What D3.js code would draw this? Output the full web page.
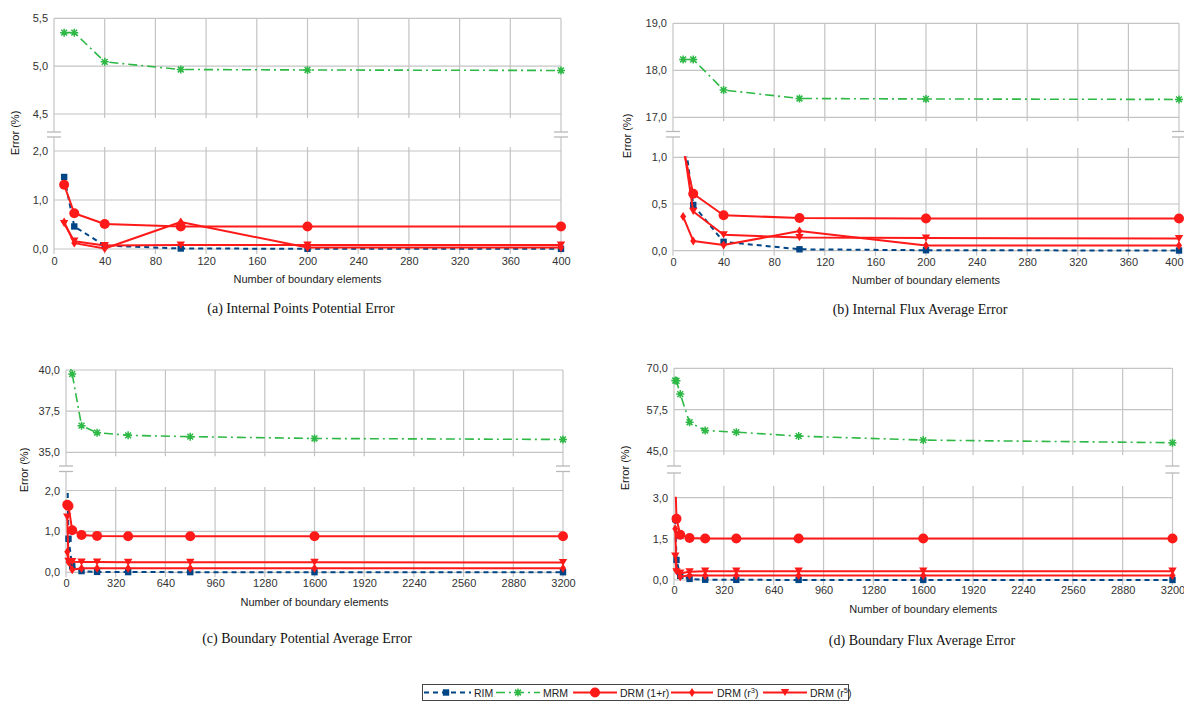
<!DOCTYPE html>
<html><head><meta charset="utf-8">
<script src="https://cdn.jsdelivr.net/npm/d3@7"></script>
<style>body{margin:0;background:#fff}svg{display:block}</style>
</head><body>
<svg id="c" width="1184" height="702"></svg>
<script>
// ---------- DATA ----------
const xSmall = [8, 16, 40, 100, 200, 400];
const xLarge = [8, 16, 40, 100, 200, 400, 800, 1600, 3200];
const xTicksSmall = [0, 40, 80, 120, 160, 200, 240, 280, 320, 360, 400];
const xTicksLarge = [0, 320, 640, 960, 1280, 1600, 1920, 2240, 2560, 2880, 3200];

const seriesNames = ["RIM", "MRM", "DRM (1+r)", "DRM (r3)", "DRM (r5)"];

// (a) Internal Points Potential Error
const aUpperTicks = [4.5, 5.0, 5.5];
const aLowerTicks = [0, 1.0, 2.0];
const aRIM  = [1.47, 0.46, 0.07, 0.01, 0.005, 0.003];
const aMRM  = [5.35, 5.35, 5.045, 4.965, 4.96, 4.955];
const aDRM1 = [1.31, 0.73, 0.51, 0.46, 0.46, 0.46];
const aDRM3 = [0.55, 0.12, 0.01, 0.55, 0.03, 0.03];
const aDRM5 = [0.52, 0.16, 0.07, 0.08, 0.08, 0.08];

// (b) Internal Flux Average Error
const bUpperTicks = [17.0, 18.0, 19.0];
const bLowerTicks = [0, 0.5, 1.0];
const bRIM  = [1.35, 0.49, 0.095, 0.015, 0.005, 0.002];
const bMRM  = [18.23, 18.23, 17.58, 17.40, 17.39, 17.38];
const bDRM1 = [1.1, 0.61, 0.38, 0.35, 0.345, 0.345];
const bDRM3 = [0.365, 0.105, 0.06, 0.21, 0.055, 0.055];
const bDRM5 = [1.15, 0.42, 0.17, 0.14, 0.135, 0.13];

// (c) Boundary Potential Average Error
const cUpperTicks = [35.0, 37.5, 40.0];
const cLowerTicks = [0, 1.0, 2.0];
const cRIM  = [2.6, 0.82, 0.15, 0.03, 0.01, 0.005, 0.004, 0.003, 0.002];
const cMRM  = [42.0, 40.5, 39.76, 36.62, 36.19, 36.03, 35.95, 35.84, 35.78];
const cDRM1 = [1.65, 1.62, 1.03, 0.91, 0.89, 0.88, 0.88, 0.88, 0.88];
const cDRM3 = [0.5, 0.25, 0.06, 0.1, 0.1, 0.1, 0.1, 0.1, 0.1];
const cDRM5 = [1.35, 0.27, 0.26, 0.25, 0.25, 0.245, 0.245, 0.245, 0.24];

// (d) Boundary Flux Average Error
const dUpperTicks = [45.0, 57.5, 70.0];
const dLowerTicks = [0, 1.5, 3.0];
const dRIM  = [2.22, 0.73, 0.15, 0.04, 0.01, 0.005, 0.004, 0.003, 0.002];
const dMRM  = [66.3, 66.2, 62.2, 53.7, 51.2, 50.7, 49.5, 48.3, 47.5];
const dDRM1 = [3.8, 2.23, 1.65, 1.53, 1.51, 1.51, 1.51, 1.51, 1.51];
const dDRM3 = [1.87, 0.35, 0.12, 0.17, 0.16, 0.16, 0.16, 0.16, 0.16];
const dDRM5 = [0.87, 0.3, 0.25, 0.3, 0.32, 0.32, 0.32, 0.32, 0.32];

// ---------- STYLE ----------
const GRID = "#c4c4c4", TXT = "#333", RED = "#ff1a1a";
const styles = [
  {key:"RIM",  color:"#004586", dash:"5,4",      width:2,   marker:"square",  part:"lower"},
  {key:"MRM",  color:"#2eb845", dash:"9,4,2,4",  width:1.6, marker:"star",    part:"upper"},
  {key:"DRM1", color:RED,       dash:null,       width:2,   marker:"circle",  part:"lower"},
  {key:"DRM3", color:RED,       dash:null,       width:2,   marker:"diamond", part:"lower"},
  {key:"DRM5", color:RED,       dash:null,       width:2,   marker:"tri",     part:"lower"}
];

const panels = [
  {id:"a", xs:xSmall, xMax:400, xTicks:xTicksSmall, x0:54, x1:561,
   uDom:[4.5,5.5], uTicks:aUpperTicks, uTop:18.3, uBot:114,
   lDom:[0,2], lTicks:aLowerTicks, lTop:151, lBot:249, lGridTop:147,
   brk:[132,137], xLabY:266, titleY:283, yLab:[15,133], cap:[301,312.5],
   capText:"(a) Internal Points Potential Error",
   data:{RIM:aRIM, MRM:aMRM, DRM1:aDRM1, DRM3:aDRM3, DRM5:aDRM5}},
  {id:"b", xs:xSmall, xMax:400, xTicks:xTicksSmall, x0:673, x1:1179,
   uDom:[17,19], uTicks:bUpperTicks, uTop:23.3, uBot:117.3,
   lDom:[0,1], lTicks:bLowerTicks, lTop:157.3, lBot:250.7, lGridTop:148,
   brk:[131.5,137], xLabY:267.5, titleY:284, yLab:[627,136], cap:[920,314],
   capText:"(b) Internal Flux Average Error", lastLabelEnd:1183,
   data:{RIM:bRIM, MRM:bMRM, DRM1:bDRM1, DRM3:bDRM3, DRM5:bDRM5}},
  {id:"c", xs:xLarge, xMax:3200, xTicks:xTicksLarge, x0:66, x1:563,
   uDom:[35,40], uTicks:cUpperTicks, uTop:370, uBot:452.3,
   lDom:[0,2], lTicks:cLowerTicks, lTop:490.5, lBot:572.3, lGridTop:487,
   brk:[466,471.5], xLabY:588, titleY:605.5, yLab:[24,470], cap:[307,642.5],
   capText:"(c) Boundary Potential Average Error",
   data:{RIM:cRIM, MRM:cMRM, DRM1:cDRM1, DRM3:cDRM3, DRM5:cDRM5}},
  {id:"d", xs:xLarge, xMax:3200, xTicks:xTicksLarge, x0:674, x1:1172.5,
   uDom:[45,70], uTicks:dUpperTicks, uTop:368.3, uBot:451,
   lDom:[0,3], lTicks:dLowerTicks, lTop:497.7, lBot:580, lGridTop:486,
   brk:[466,473], xLabY:595.5, titleY:613, yLab:[625,468], cap:[922,645],
   capText:"(d) Boundary Flux Average Error",
   data:{RIM:dRIM, MRM:dMRM, DRM1:dDRM1, DRM3:dDRM3, DRM5:dDRM5}}
];

const fmt = v => d3.format(".1f")(v).replace(".", ",");
const svg = d3.select("#c");
const defs = svg.append("defs");
const SANS = "'Liberation Sans', Arial, sans-serif";
const SERIF = "'Liberation Serif', 'Times New Roman', serif";

function drawMarker(g, type, cx, cy, color) {
  if (type === "square") {
    g.append("rect").attr("x", cx-3.2).attr("y", cy-3.2).attr("width", 6.4).attr("height", 6.4).attr("fill", color);
  } else if (type === "circle") {
    g.append("circle").attr("cx", cx).attr("cy", cy).attr("r", 5).attr("fill", color);
  } else if (type === "diamond") {
    g.append("path").attr("d", `M${cx},${cy-4.5}L${cx+3},${cy}L${cx},${cy+4.5}L${cx-3},${cy}Z`).attr("fill", color);
  } else if (type === "tri") {
    g.append("path").attr("d", `M${cx-4.2},${cy-3.6}L${cx+4.2},${cy-3.6}L${cx},${cy+3.6}Z`).attr("fill", color);
  } else if (type === "star") {
    g.append("path").attr("d",
      `M${cx-4},${cy}L${cx+4},${cy}M${cx},${cy-4}L${cx},${cy+4}M${cx-2.9},${cy-2.9}L${cx+2.9},${cy+2.9}M${cx-2.9},${cy+2.9}L${cx+2.9},${cy-2.9}`)
      .attr("stroke", color).attr("stroke-width", 1.5).attr("fill", "none");
  }
}

function gline(g, x1, y1, x2, y2, color, w) {
  g.append("line").attr("x1", x1).attr("y1", y1).attr("x2", x2).attr("y2", y2)
    .attr("stroke", color || GRID).attr("stroke-width", w || 1.2);
}

panels.forEach(p => {
  const g = svg.append("g");
  const x = d3.scaleLinear().domain([0, p.xMax]).range([p.x0, p.x1]);
  const yU = d3.scaleLinear().domain(p.uDom).range([p.uBot, p.uTop]);
  const yL = d3.scaleLinear().domain(p.lDom).range([p.lBot, p.lTop]);

  // --- upper grid ---
  p.uTicks.forEach(t => gline(g, p.x0, yU(t), p.x1, yU(t)));
  p.xTicks.forEach(t => {
    if (t === 0 || t === p.xMax) gline(g, x(t), p.uTop, x(t), p.brk[0]);
    else gline(g, x(t), p.uTop, x(t), p.uBot + 4);
  });
  // --- lower grid ---
  p.lTicks.forEach(t => gline(g, p.x0, yL(t), p.x1, yL(t)));
  p.xTicks.forEach(t => {
    if (t === 0 || t === p.xMax) gline(g, x(t), p.brk[1], x(t), p.lBot + 5);
    else gline(g, x(t), p.lGridTop, x(t), p.lBot + 5);
  });
  // --- break marks ---
  [p.x0, p.x1].forEach(bx => {
    p.brk.forEach(by => gline(g, bx - 7, by, bx + 7, by, "#b8b8b8", 1.3));
  });

  // --- axis tick labels (via d3 axes) ---
  const axU = d3.axisLeft(yU).tickValues(p.uTicks).tickFormat(fmt).tickSize(0).tickPadding(6);
  const axL = d3.axisLeft(yL).tickValues(p.lTicks).tickFormat(fmt).tickSize(0).tickPadding(6);
  const axX = d3.axisBottom(x).tickValues(p.xTicks).tickFormat(d3.format("d")).tickSize(0).tickPadding(0);
  [[axU, `translate(${p.x0},0)`], [axL, `translate(${p.x0},0)`]].forEach(([ax, tr]) => {
    const a = g.append("g").attr("transform", tr).call(ax);
    a.select(".domain").remove();
    a.selectAll("text").attr("fill", TXT).style("font-family", SANS).style("font-size", "11px");
  });
  const ax = g.append("g").attr("transform", `translate(0,${p.xLabY - 9})`).call(axX);
  ax.select(".domain").remove();
  ax.selectAll("text").attr("fill", TXT).style("font-family", SANS).style("font-size", "11px");
  if (p.lastLabelEnd) {
    ax.selectAll(".tick").filter(d => d === p.xMax).select("text")
      .attr("text-anchor", "end").attr("x", p.lastLabelEnd - x(p.xMax));
  }

  // --- titles ---
  g.append("text").attr("x", (p.x0 + p.x1) / 2).attr("y", p.titleY).attr("text-anchor", "middle")
    .style("font-family", SANS).style("font-size", "11px").attr("fill", "#222").text("Number of boundary elements");
  g.append("text").attr("transform", `translate(${p.yLab[0] + 4},${p.yLab[1]}) rotate(-90)`).attr("text-anchor", "middle")
    .style("font-family", SANS).style("font-size", "11px").attr("fill", "#111").text("Error (%)");
  g.append("text").attr("x", p.cap[0]).attr("y", p.cap[1]).attr("text-anchor", "middle")
    .style("font-family", SERIF).style("font-size", "14px").attr("fill", "#111").text(p.capText);

  // --- clips ---
  const cu = "clipU" + p.id, cl = "clipL" + p.id;
  defs.append("clipPath").attr("id", cu).append("rect").attr("x", 0).attr("y", p.uTop - 1).attr("width", 1184).attr("height", p.uBot - p.uTop + 14);
  defs.append("clipPath").attr("id", cl).append("rect").attr("x", 0).attr("y", p.lTop - 1).attr("width", 1184).attr("height", p.lBot - p.lTop + 14);

  // --- series ---
  styles.forEach(s => {
    const vals = p.data[s.key];
    const y = s.part === "upper" ? yU : yL;
    const dom = s.part === "upper" ? p.uDom : p.lDom;
    const pts = p.xs.map((xv, i) => [xv, vals[i]]);
    const sg = g.append("g").attr("clip-path", `url(#${s.part === "upper" ? cu : cl})`);
    const line = d3.line().x(d => x(d[0])).y(d => y(d[1]));
    sg.append("path").attr("d", line(pts)).attr("fill", "none").attr("stroke", s.color)
      .attr("stroke-width", s.width).attr("stroke-dasharray", s.dash).attr("stroke-linejoin", "round");
    const mg = g.append("g");
    pts.filter(d => d[1] <= dom[1]).forEach(d => drawMarker(mg, s.marker, x(d[0]), y(d[1]), s.color));
  });
});

// ---------- LEGEND ----------
const lg = svg.append("g");
lg.append("rect").attr("x", 422.5).attr("y", 684.5).attr("width", 426).attr("height", 16)
  .attr("fill", "#fff").attr("stroke", "#444").attr("stroke-width", 1);
const legendPos = [
  {l0:424, l1:471, m:446, t:474},
  {l0:496, l1:540, m:518, t:543},
  {l0:573, l1:617, m:595, t:620},
  {l0:671, l1:713, m:692, t:717},
  {l0:763, l1:807, m:785, t:810}
];
const ly = 692.5;
styles.forEach((s, i) => {
  const L = legendPos[i];
  lg.append("line").attr("x1", L.l0).attr("y1", ly).attr("x2", L.l1).attr("y2", ly)
    .attr("stroke", s.color).attr("stroke-width", s.width).attr("stroke-dasharray", s.dash);
  drawMarker(lg, s.marker, L.m, ly, s.color);
  const name = seriesNames[i];
  const t = lg.append("text").attr("x", L.t).attr("y", ly + 4).style("font-family", SANS)
    .style("font-size", "10.5px").attr("fill", "#222");
  const m = name.match(/^(DRM \(r)(\d)\)$/);
  if (m) {
    t.append("tspan").text(m[1]);
    t.append("tspan").attr("dy", -4).style("font-size", "7.5px").text(m[2]);
    t.append("tspan").attr("dy", 4).text(")");
  } else t.text(name);
});
</script>
</body></html>
